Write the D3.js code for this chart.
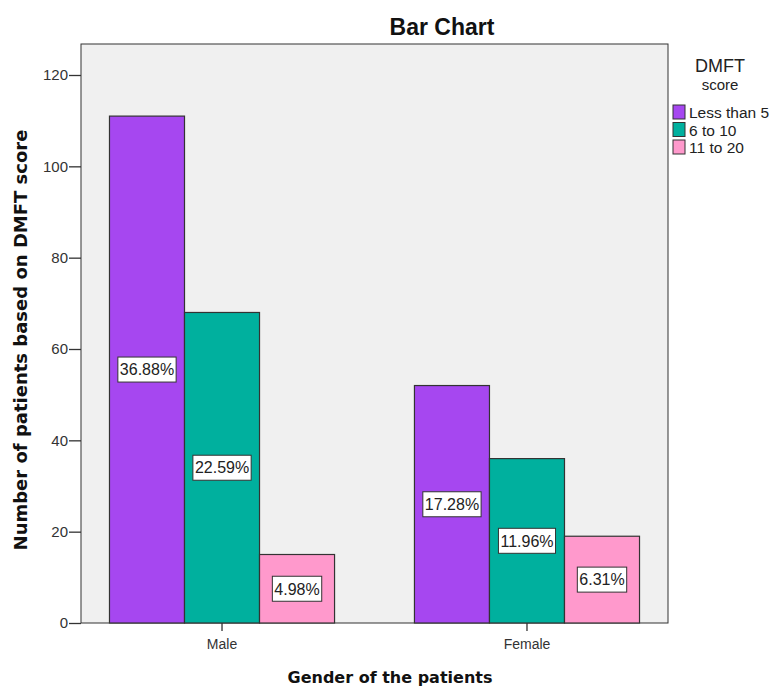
<!DOCTYPE html>
<html><head><meta charset="utf-8">
<script src="https://cdn.jsdelivr.net/npm/d3@7"></script>
<style>body{margin:0;background:#fff}</style>
</head><body>
<svg id="c" width="774" height="686"></svg>
<script>
const genders = ["Male", "Female"];
const groups = ["Less than 5", "6 to 10", "11 to 20"];
const counts = {
  "Less than 5": [111, 52],
  "6 to 10": [68, 36],
  "11 to 20": [15, 19]
};
const percents = {
  "Less than 5": ["36.88%", "17.28%"],
  "6 to 10": ["22.59%", "11.96%"],
  "11 to 20": ["4.98%", "6.31%"]
};
const yTicks = [0, 20, 40, 60, 80, 100, 120];
const colors = ["#a647f0", "#00b09e", "#ff99cc"];

const FONT = "Liberation Sans, Arial, sans-serif";
const svg = d3.select("#c");
const L = 81, R = 668, T = 44, B = 623;
const y = d3.scaleLinear().domain([0, 120]).range([B, 75]);
const x0 = d3.scaleBand().domain(genders).range([L, R]).paddingInner(0.262).paddingOuter(0.0934);
const x1 = d3.scaleBand().domain(groups).range([0, x0.bandwidth()]);
const color = d3.scaleOrdinal().domain(groups).range(colors);

svg.append("rect").attr("x", L).attr("y", T).attr("width", R - L).attr("height", B - T)
  .attr("fill", "#f0f0f0").attr("stroke", "#333").attr("stroke-width", 1);

const data = [];
genders.forEach((g, gi) => groups.forEach(s => data.push({g, s, v: counts[s][gi], p: percents[s][gi]})));

svg.append("g").selectAll("rect").data(data).join("rect")
  .attr("x", d => x0(d.g) + x1(d.s))
  .attr("y", d => y(d.v))
  .attr("width", x1.bandwidth())
  .attr("height", d => B - y(d.v))
  .attr("fill", d => color(d.s))
  .attr("stroke", "#333").attr("stroke-width", 1.2);

const lab = svg.append("g").selectAll("g").data(data).join("g")
  .attr("transform", d => `translate(${x0(d.g) + x1(d.s) + x1.bandwidth() / 2},${(y(d.v) + B) / 2})`);
lab.append("text").attr("text-anchor", "middle").attr("dy", "0.36em")
  .attr("font-family", FONT).attr("font-size", 16).attr("fill", "#222")
  .text(d => d.p)
  .each(function () {
    const bb = this.getBBox();
    d3.select(this.parentNode).insert("rect", "text")
      .attr("x", bb.x - 2).attr("y", -12.5).attr("width", bb.width + 4).attr("height", 25)
      .attr("fill", "#fff").attr("stroke", "#333").attr("stroke-width", 1);
  });

// Y axis
const yAxis = svg.append("g").attr("transform", `translate(${L},0)`)
  .call(d3.axisLeft(y).tickValues(yTicks).tickSize(12).tickSizeOuter(0).tickFormat(d3.format("d")));
yAxis.select(".domain").remove();
yAxis.selectAll("line").attr("stroke", "#333").attr("stroke-width", 1.3);
yAxis.selectAll("text").attr("font-family", FONT).attr("font-size", 15).attr("fill", "#333").attr("x", -13);

// X axis
const xAxis = svg.append("g").attr("transform", `translate(0,${B})`)
  .call(d3.axisBottom(x0).tickSize(8).tickSizeOuter(0));
xAxis.select(".domain").remove();
xAxis.selectAll("line").attr("stroke", "#333").attr("stroke-width", 1.3);
xAxis.selectAll("text").attr("font-family", FONT).attr("font-size", 14).attr("fill", "#333").attr("y", 16);

// Titles
svg.append("text").attr("x", 442).attr("y", 35).attr("text-anchor", "middle")
  .attr("font-family", FONT).attr("font-weight", "bold").attr("font-size", 23).attr("fill", "#111")
  .text("Bar Chart");
svg.append("text").attr("x", 390).attr("y", 683).attr("text-anchor", "middle")
  .attr("font-family", "DejaVu Sans, sans-serif").attr("font-weight", "bold").attr("font-size", 16).attr("fill", "#111")
  .text("Gender of the patients");
svg.append("text").attr("transform", "translate(27,340) rotate(-90)").attr("text-anchor", "middle")
  .attr("font-family", "DejaVu Sans, sans-serif").attr("font-weight", "bold").attr("font-size", 18).attr("fill", "#111")
  .text("Number of patients based on DMFT score");

// Legend
const lg = svg.append("g");
lg.append("text").attr("x", 720).attr("y", 72).attr("text-anchor", "middle")
  .attr("font-family", FONT).attr("font-size", 18).attr("fill", "#222").text("DMFT");
lg.append("text").attr("x", 720).attr("y", 90).attr("text-anchor", "middle")
  .attr("font-family", FONT).attr("font-size", 15).attr("fill", "#222").text("score");
const items = lg.selectAll("g").data(groups).join("g")
  .attr("transform", (d, i) => `translate(673,${105 + i * 17.5})`);
items.append("rect").attr("width", 12).attr("height", 14).attr("fill", d => color(d)).attr("stroke", "#333");
items.append("text").attr("x", 16).attr("y", 13)
  .attr("font-family", FONT).attr("font-size", 15.5).attr("fill", "#222").text(d => d);
</script>
</body></html>
